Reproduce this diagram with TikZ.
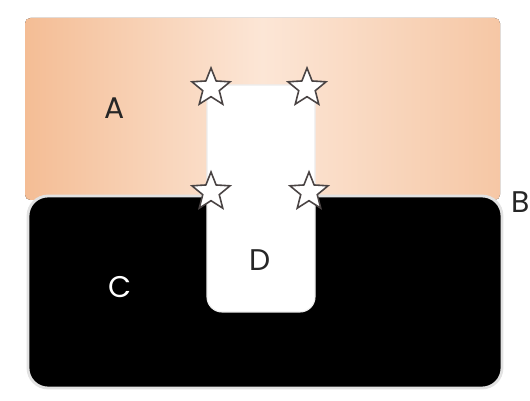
\documentclass[tikz,border=0pt]{standalone}
\usepackage{xcolor}
\usepackage{fontspec}
\setsansfont{Poppins}
\usepackage{tikz}
\usetikzlibrary{shapes.geometric, positioning, calc}
\definecolor{peachdark}{HTML}{F4BD95}
\definecolor{peachlight}{HTML}{FCE6D6}
\definecolor{rimgray}{HTML}{E2E2E2}
\definecolor{stargray}{HTML}{4A4444}

\begin{document}
\begin{tikzpicture}[
    region/.style={rectangle, rounded corners=#1},
    marker/.style={star, star points=5, star point ratio=2.3, draw=stargray, fill=white, line width=0.9pt, minimum size=0.8cm, inner sep=0pt},
    label/.style={font=\sffamily\fontsize{17}{19}\selectfont, color=#1, inner sep=0pt}
]
\useasboundingbox (0,0) rectangle (10.6,8);

% upper band
\fill[region=3pt, left color=peachdark, right color=peachdark!85, middle color=peachlight] (0.5,4.0) rectangle (10.0,7.64);

% lower block
\draw[region=0.4cm, fill=black, draw=rimgray, line width=1.6pt] (0.56,0.24) rectangle (10.04,4.08);

% slot
\draw[fill=white, draw=gray!15, line width=0.6pt, rounded corners=0.3cm]
    (4.14,6.3) [sharp corners] -- (4.14,3.0) [rounded corners=0.3cm] -- (4.14,1.76) -- (6.3,1.76) -- (6.3,3.0) [sharp corners] -- (6.3,6.3) -- cycle;

\node[marker] (s1) at (4.22,6.24) {};
\node[marker] (s2) at (6.14,6.24) {};
\node[marker] (s3) at (4.22,4.16) {};
\node[marker] (s4) at (6.18,4.16) {};

\node[label=black!85] (la) at (2.3,5.84) {A};
\node[label=black!85] (lb) at (10.42,3.96) {B};
\node[label=white] (lc) at (2.4,2.26) {C};
\node[label=black!85] (ld) at (5.2,2.8) {D};

\end{tikzpicture}
\end{document}
